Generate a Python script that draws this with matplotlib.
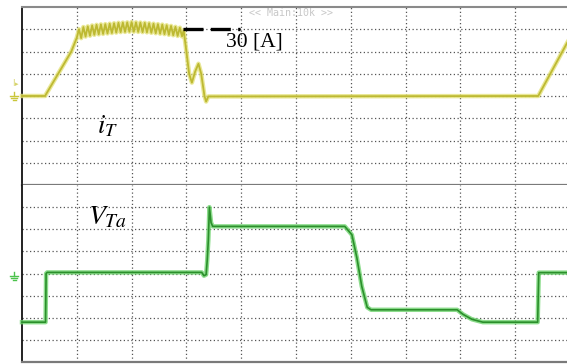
import matplotlib
matplotlib.use('Agg')
import matplotlib.pyplot as plt
from matplotlib.lines import Line2D

# oscilloscope capture, units = grid divisions (10 across, 8 up per channel)
# channel 1 : i_T (yellow)
it_x = [0.00, 0.42, 0.90, 1.00,
        1.04, 1.08, 1.12, 1.16, 1.20, 1.24, 1.28, 1.32, 1.36, 1.40,
        1.44, 1.48, 1.52, 1.56, 1.60, 1.64, 1.68, 1.72, 1.76, 1.80,
        1.84, 1.88, 1.92, 1.96, 2.00, 2.04, 2.08, 2.12, 2.16, 2.20,
        2.24, 2.28, 2.32, 2.36, 2.40, 2.44, 2.48, 2.52, 2.56, 2.60,
        2.64, 2.68, 2.72, 2.76, 2.80, 2.84, 2.88, 2.92, 2.95,
        3.00, 3.05, 3.10, 3.16, 3.22, 3.27, 3.33, 3.36, 3.40,
        9.42, 9.95, 10.0]
it_y = [4.00, 4.00, 6.00, 6.62,
        7.00, 6.60, 7.10, 6.67, 7.13, 6.71, 7.17, 6.75, 7.20, 6.77,
        7.22, 6.79, 7.23, 6.81, 7.25, 6.83, 7.27, 6.85, 7.29, 6.87,
        7.30, 6.88, 7.31, 6.89, 7.32, 6.89, 7.31, 6.88, 7.30, 6.87,
        7.29, 6.86, 7.27, 6.84, 7.25, 6.82, 7.23, 6.80, 7.21, 6.78,
        7.18, 6.75, 7.15, 6.73, 7.11, 6.70, 7.07, 6.68, 6.95,
        6.00, 5.00, 4.60, 5.10, 5.45, 5.00, 4.00, 3.75, 3.98,
        4.00, 6.40, 6.60]

# channel 2 : V_Ta (green)
vt_x = [0.00, 0.43, 0.44, 0.46, 3.28, 3.32, 3.36, 3.38, 3.40, 3.42, 3.45, 3.48,
        5.89, 6.02, 6.11, 6.20, 6.30, 6.37, 7.94, 8.05, 8.21, 8.41,
        9.41, 9.43, 10.0]
vt_y = [1.80, 1.80, 4.00, 4.05, 4.05, 3.90, 3.95, 4.60, 5.50, 7.00, 6.30, 6.13,
        6.13, 5.75, 4.72, 3.42, 2.47, 2.36, 2.36, 2.15, 1.93, 1.80,
        1.80, 4.04, 4.04]

# 30 A marker line
mark_x = [2.94, 3.98]
mark_y = [7.0, 7.0]

plt.rcParams['mathtext.fontset'] = 'stix'

W, H = 567, 364
fig = plt.figure(figsize=(W / 100, H / 100), dpi=100)
ax1 = fig.add_axes([22 / W, 179 / H, 548 / W, 178 / H])
ax2 = fig.add_axes([22 / W, 2 / H, 548 / W, 177 / H])

for ax in (ax1, ax2):
    ax.set_xlim(0, 10)
    ax.set_ylim(0, 8)
    ax.set_xticks([])
    ax.set_yticks([])
    for i in range(1, 10):
        ax.axvline(i, color='#555555', lw=0.9, ls=(0, (1, 2)), zorder=1)
    for j in range(1, 8):
        ax.axhline(j, color='#555555', lw=0.9, ls=(0, (1, 2)), zorder=1)
    ax.spines['right'].set_visible(False)
    ax.spines['left'].set_color('#111111')
    ax.spines['left'].set_linewidth(1.3)

ax1.spines['top'].set_color('#8a8a8a')
ax1.spines['top'].set_linewidth(1.5)
ax1.spines['bottom'].set_color('#7a7a7a')
ax1.spines['bottom'].set_linewidth(1.6)
ax2.spines['top'].set_visible(False)
ax2.spines['bottom'].set_color('#7a7a7a')
ax2.spines['bottom'].set_linewidth(1.6)

# traces
ax1.plot(it_x, it_y, color='#e4e27c', lw=3.2, alpha=0.8, zorder=3, clip_on=False)
ax1.plot(it_x, it_y, color='#bdb932', lw=1.3, zorder=4, clip_on=False)
ax2.plot(vt_x, vt_y, color='#6fd46f', lw=3.2, alpha=0.8, zorder=3, clip_on=False)
ax2.plot(vt_x, vt_y, color='#2b8f2b', lw=1.2, zorder=4, clip_on=False)

ax1.plot(mark_x, mark_y, color='black', lw=2.4, ls=(0, (6, 2.2)), zorder=5)

# labels
ax1.text(3.72, 6.43, '30 [A]', family='Liberation Serif', fontsize=15.5,
         va='center', ha='left', color='black', zorder=6)
ax1.text(1.37, 2.34, '$i_T$', fontsize=19, va='baseline', ha='left', zorder=6)
ax2.text(1.20, 6.2, '$V_{Ta}$', fontsize=20, va='baseline', ha='left', zorder=6)
ax1.text(4.91, 7.73, '<< Main:10k >>', family='DejaVu Sans Mono', fontsize=7.2,
         color='#c8c8c8', va='center', ha='center', zorder=2)


# ground symbol (no installed font has the glyph) drawn in the left margin
def ground(px, py, color):
    def f(x, y):
        return x / W, 1 - y / H
    segs = [((px, py - 5), (px, py - 1)),
            ((px - 4, py - 1), (px + 4, py - 1)),
            ((px - 3, py + 1), (px + 3, py + 1)),
            ((px - 1.5, py + 3), (px + 1.5, py + 3))]
    for a, b in segs:
        (x0, y0), (x1, y1) = f(*a), f(*b)
        fig.add_artist(Line2D([x0, x1], [y0, y1], color=color, lw=1.0,
                              transform=fig.transFigure))


ground(14, 97, '#c9c63a')
ground(14, 277, '#4cc24c')
fig.text(13 / W, 1 - 83 / H, 'I', fontsize=6, color='#d6d36a', ha='center', va='center')
fig.text(17 / W, 1 - 84 / H, '▸', fontsize=5, color='#d6d36a', ha='center', va='center')

fig.savefig('out.png', dpi=100, facecolor='white')
